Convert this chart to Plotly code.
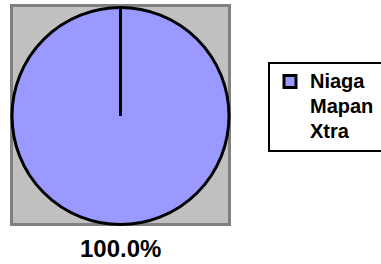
import plotly.graph_objects as go

# ---- data ----
labels = ["Niaga", "Mapan", "Xtra"]
values = [100, 0, 0]

# ---- styles ----
slice_colors = ["#9999FF", "rgba(0,0,0,0)", "rgba(0,0,0,0)"]
line_colors = ["#000000", "rgba(0,0,0,0)", "rgba(0,0,0,0)"]

W, H = 381, 264
FONT = "Liberation Sans, Arial, sans-serif"

# pie geometry (pixels)
cx, cy, r = 120.5, 116.0, 108.5
dom_x = [(cx - r) / W, (cx + r) / W]
dom_y = [(H - cy - r) / H, (H - cy + r) / H]

# legend labels drawn at 20px while the legend rows are spaced more tightly;
# a small trailing pad lets the legend box run past the right edge as in the original
legend_labels = [
    f"<span style='font-size:20px'>{lab}&nbsp;</span>" for lab in labels
]

fig = go.Figure(
    go.Pie(
        labels=legend_labels,
        values=values,
        sort=False,
        direction="clockwise",
        rotation=0,
        domain=dict(x=dom_x, y=dom_y),
        marker=dict(colors=slice_colors, line=dict(color=line_colors, width=3)),
        textinfo="none",
        hoverinfo="percent",
        showlegend=True,
    )
)

# plot-area frame (grey box behind the pie)
fig.add_shape(
    type="rect", xref="paper", yref="paper", layer="below",
    x0=11.5 / W, x1=229.5 / W, y0=(H - 224.5) / H, y1=(H - 5.5) / H,
    fillcolor="#C0C0C0", line=dict(color="#808080", width=3),
)
# radial edge of the single full slice (from centre to 12 o'clock)
pcx = (dom_x[0] + dom_x[1]) / 2
pcy = (dom_y[0] + dom_y[1]) / 2
fig.add_shape(
    type="line", xref="paper", yref="paper",
    x0=pcx, x1=pcx, y0=pcy, y1=dom_y[1],
    line=dict(color="#000000", width=3),
)

# percentage label of the visible slice, below the pie
total = sum(values)
fig.add_annotation(
    xref="paper", yref="paper", x=pcx, y=(H - 248.5) / H,
    xanchor="center", yanchor="middle", showarrow=False,
    text=f"{100 * values[0] / total:.1f}%",
    font=dict(family=FONT, size=24, color="#000000", weight="bold"),
)

fig.update_layout(
    width=W, height=H,
    margin=dict(l=0, r=0, t=0, b=0, autoexpand=False),
    paper_bgcolor="#FFFFFF",
    plot_bgcolor="#FFFFFF",
    font=dict(family=FONT, color="#000000"),
    legend=dict(
        x=268 / W, y=1 - 62 / H, xanchor="left", yanchor="top",
        bgcolor="#FFFFFF", bordercolor="#000000", borderwidth=2,
        font=dict(family=FONT, size=17, color="#000000", weight="bold"),
        traceorder="normal",
    ),
)

fig.write_html(
    "out.html",
    config={"displayModeBar": False},
    post_script="document.body.style.margin='0';document.body.style.padding='0';",
)
